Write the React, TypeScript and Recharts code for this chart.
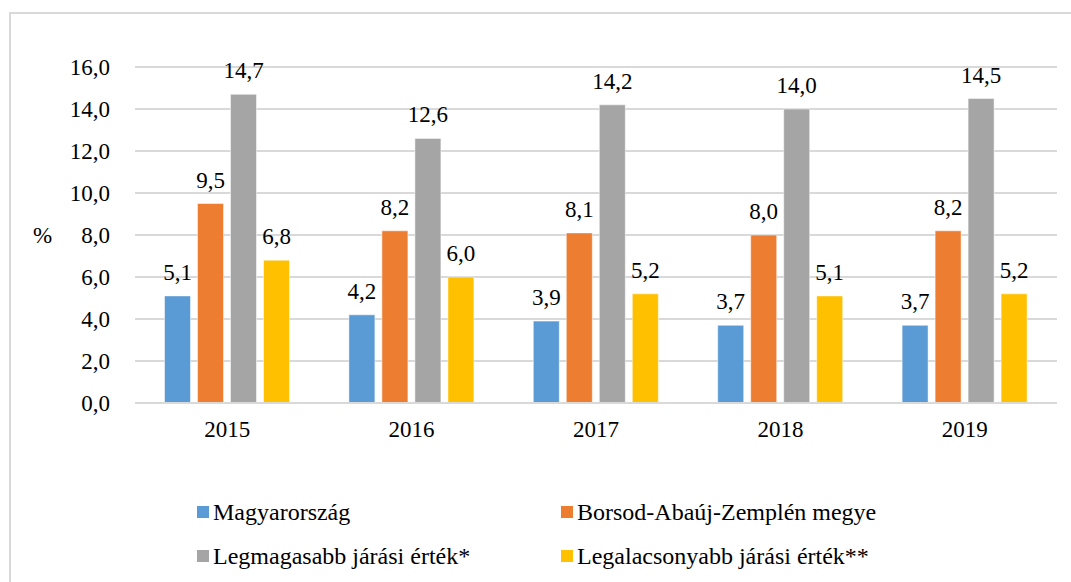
import React from 'react';
import { BarChart, Bar, XAxis, YAxis, CartesianGrid, LabelList, Legend } from 'recharts';

const years = ['2015', '2016', '2017', '2018', '2019'];
const magyarorszag = [5.1, 4.2, 3.9, 3.7, 3.7];
const borsod = [9.5, 8.2, 8.1, 8.0, 8.2];
const legmagasabb = [14.7, 12.6, 14.2, 14.0, 14.5];
const legalacsonyabb = [6.8, 6.0, 5.2, 5.1, 5.2];
const yTicks = [0, 2, 4, 6, 8, 10, 12, 14, 16];

const series = [
  { key: 'hu', name: 'Magyarország', color: '#5B9BD5', values: magyarorszag },
  { key: 'baz', name: 'Borsod-Abaúj-Zemplén megye', color: '#ED7D31', values: borsod },
  { key: 'max', name: 'Legmagasabb járási érték*', color: '#A5A5A5', values: legmagasabb },
  { key: 'min', name: 'Legalacsonyabb járási érték**', color: '#FFC000', values: legalacsonyabb },
];

const data = years.map((y, i) => {
  const row: any = { year: y };
  series.forEach((s) => (row[s.key] = s.values[i]));
  return row;
});

const fmt = (v: any) => Number(v).toFixed(1).replace('.', ',');
const FONT =
  "'Liberation Serif', 'Times New Roman', Times, Tinos, 'Noto Serif', 'Nimbus Roman', FreeSerif, 'DejaVu Serif', Georgia, serif";
const FS = 23;

const LegendContent = () => (
  <div
    style={{
      display: 'grid',
      gridTemplateColumns: '364px 420px',
      rowGap: 18,
      fontFamily: FONT,
      fontSize: 24,
      color: '#000',
    }}
  >
    {series.map((s) => (
      <div key={s.key} style={{ display: 'flex', alignItems: 'center', height: 26, whiteSpace: 'nowrap' }}>
        <span style={{ display: 'inline-block', width: 12, height: 12, background: s.color, marginRight: 4 }} />
        <span>{s.name}</span>
      </div>
    ))}
  </div>
);

export default function App() {
  return (
    <div style={{ position: 'absolute', left: 0, top: 0, width: 1071, height: 582, overflow: 'hidden', background: '#fff' }}>
      <div
        style={{
          position: 'absolute',
          left: 9,
          top: 12,
          width: 1100,
          height: 620,
          borderLeft: '2px solid #D9D9D9',
          borderTop: '2px solid #D9D9D9',
        }}
      />
      <div style={{ position: 'absolute', left: 0, top: 0 }}>
        <BarChart
          width={1071}
          height={582}
          data={data}
          margin={{ top: 67, right: 14, left: 10, bottom: 149 }}
          barCategoryGap="16%"
          barGap={7}
        >
          <CartesianGrid vertical={false} stroke="#D9D9D9" strokeWidth={2} />
          <XAxis
            dataKey="year"
            axisLine={{ stroke: '#D9D9D9', strokeWidth: 2 }}
            tickLine={false}
            tickMargin={12}
            tick={{ fill: '#000', fontSize: FS, fontFamily: FONT }}
            height={30}
          />
          <YAxis
            width={125}
            domain={[0, 16]}
            ticks={yTicks}
            axisLine={false}
            tickLine={false}
            tickMargin={19}
            tickFormatter={fmt}
            tick={{ fill: '#000', fontSize: FS, fontFamily: FONT }}
            label={{ value: '%', position: 'insideLeft', offset: 23, fill: '#000', fontSize: FS, fontFamily: FONT }}
          />
          <Legend
            layout="horizontal"
            verticalAlign="middle"
            align="center"
            wrapperStyle={{ position: 'absolute', top: 499, left: 197, width: 800 }}
            content={<LegendContent />}
          />
          {series.map((s) => (
            <Bar key={s.key} dataKey={s.key} name={s.name} fill={s.color} stroke="#ffffff" strokeWidth={0.5} isAnimationActive={false}>
              <LabelList dataKey={s.key} position="top" offset={16} formatter={fmt} fill="#000" fontSize={FS} fontFamily={FONT} />
            </Bar>
          ))}
        </BarChart>
      </div>
    </div>
  );
}
